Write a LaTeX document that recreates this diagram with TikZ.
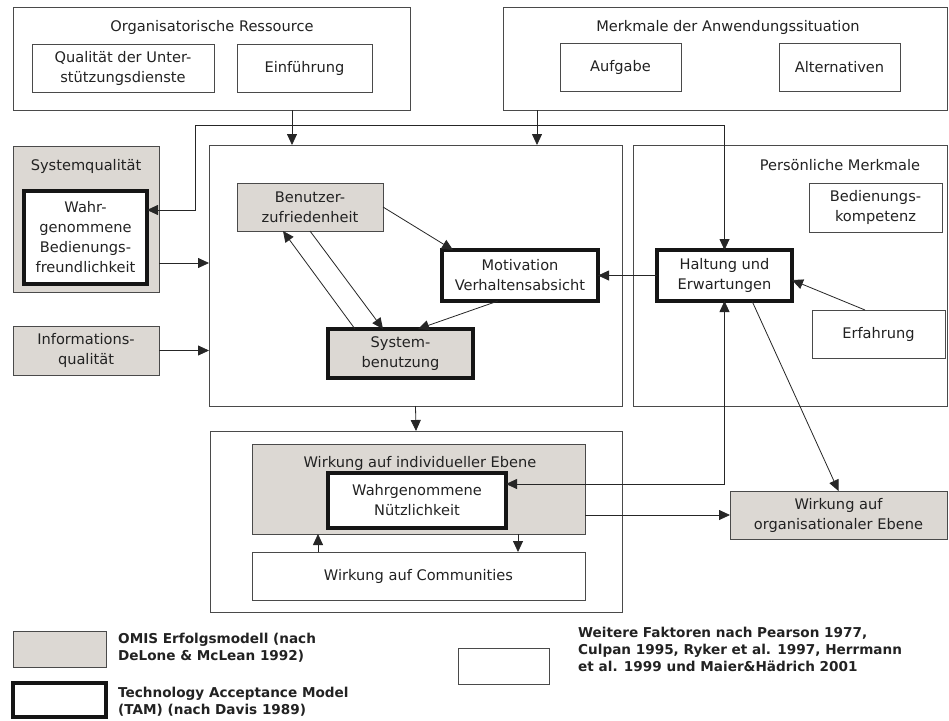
\documentclass[tikz,border=0pt]{standalone}
\usepackage{fontspec}
\setmainfont{DejaVu Sans}
\usetikzlibrary{arrows.meta,calc}

\definecolor{boxgray}{HTML}{DCD8D3}
\definecolor{framegray}{HTML}{4A4A4A}
\definecolor{inkgray}{HTML}{222222}
\definecolor{tamblack}{HTML}{151515}

\tikzset{
  boxw/.style={minimum width=#1},
  boxh/.style={minimum height=#1},
  basebox/.style={rectangle, inner sep=0pt, outer sep=0pt, align=center,
    text=inkgray, font=\fontsize{14.6}{20}\selectfont},
  plainbox/.style={basebox, draw=framegray, line width=0.9pt, fill=white},
  omisbox/.style={basebox, draw=framegray, line width=0.9pt, fill=boxgray},
  tambox/.style={basebox, draw=tamblack, line width=3.6pt, fill=white},
  tamomis/.style={basebox, draw=tamblack, line width=3.6pt, fill=boxgray},
  title/.style={anchor=base, inner sep=0pt, text=inkgray,
    font=\fontsize{14.6}{20}\selectfont},
  legendtext/.style={anchor=north west, inner sep=0pt, align=left,
    text=inkgray, font=\fontsize{13.6}{17}\selectfont\bfseries},
  conn/.style={draw=black!85, line width=0.8pt,
    -{Triangle[length=11pt,width=10pt]}},
  biconn/.style={draw=black!85, line width=0.8pt,
    {Triangle[length=11pt,width=10pt]}-{Triangle[length=11pt,width=10pt]}},
}

\begin{document}
\begin{tikzpicture}[x=1pt,y=-1pt]
\useasboundingbox (0,0) rectangle (949,720);

% ---------- top row: organisational resources and usage situation ----------
\node[plainbox, boxw=397, boxh=103] (org) at (211.5,58.5) {};
\node[title] (orgT) at (212,31.5) {Organisatorische Ressource};
\node[plainbox, boxw=182, boxh=48] (qual) at (123,68) {Qualität der Unter-\\stützungsdienste};
\node[plainbox, boxw=135, boxh=48] (einf) at (304.5,68) {Einführung};

\node[plainbox, boxw=444, boxh=103] (merk) at (725,58.5) {};
\node[title] (merkT) at (728,31.5) {Merkmale der Anwendungssituation};
\node[plainbox, boxw=121, boxh=48] (aufg) at (620.5,67) {Aufgabe};
\node[plainbox, boxw=121, boxh=48] (alt) at (839.5,67) {Alternativen};

% ---------- left column: system and information quality ----------
\node[omisbox, boxw=146, boxh=146] (sysq) at (86,219) {};
\node[title] (sysqT) at (86,170.5) {Systemqualität};
\node[tambox, boxw=123, boxh=93] (wahr) at (85.5,237.5)
  {Wahr-\\genommene\\Bedienungs-\\freundlichkeit};
\node[omisbox, boxw=146, boxh=49] (info) at (86,350.5) {Informations-\\qualität};

% ---------- centre: usage ----------
\node[plainbox, boxw=413, boxh=261] (main) at (415.5,275.5) {};
\node[omisbox, boxw=146, boxh=48] (benu) at (310,207) {Benutzer-\\zufriedenheit};
\node[tambox, boxw=156, boxh=51] (moti) at (520,275.5) {Motivation\\Verhaltensabsicht};
\node[tamomis, boxw=145, boxh=49] (syst) at (400.5,353.5) {System-\\benutzung};

% ---------- right: personal characteristics ----------
\node[plainbox, boxw=314, boxh=261] (pers) at (790,275.5) {};
\node[title] (persT) at (840,170.5) {Persönliche Merkmale};
\node[plainbox, boxw=133, boxh=49] (bedk) at (875.5,207.5) {Bedienungs-\\kompetenz};
\node[tambox, boxw=135, boxh=51] (halt) at (724.5,275.5) {Haltung und\\Erwartungen};
\node[plainbox, boxw=133, boxh=48] (erf) at (878.5,334) {Erfahrung};

% ---------- bottom: effects ----------
\node[plainbox, boxw=412, boxh=181] (wirk) at (416,521.5) {};
\node[omisbox, boxw=333, boxh=90] (indiv) at (418.5,489) {};
\node[title] (indivT) at (420,467) {Wirkung auf individueller Ebene};
\node[tambox, boxw=178, boxh=55] (nuetz) at (417,500.5) {Wahrgenommene\\Nützlichkeit};
\node[plainbox, boxw=333, boxh=48] (comm) at (418.5,576) {Wirkung auf Communities};
\node[omisbox, boxw=217, boxh=48] (orgeb) at (838.5,515) {Wirkung auf\\organisationaler Ebene};

% ---------- legend ----------
\node[omisbox, boxw=93, boxh=36] (lgomis) at (59.5,649) {};
\node[legendtext] (lgomisT) at (118,632.5) {OMIS Erfolgsmodell (nach\\DeLone \& McLean 1992)};
\node[tambox, boxw=93, boxh=34] (lgtam) at (59.5,700) {};
\node[legendtext] (lgtamT) at (118,686.5) {Technology Acceptance Model\\(TAM) (nach Davis 1989)};
\node[plainbox, boxw=91, boxh=36] (lgwhite) at (503.5,666) {};
\node[legendtext] (lgwhiteT) at (578,626.5)
  {Weitere Faktoren nach Pearson 1977,\\Culpan 1995, Ryker et al. 1997, Herrmann\\et al. 1999 und Maier\&Hädrich 2001};

% ---------- routing points ----------
\coordinate (xorg) at (292,0);
\coordinate (xmerk) at (537,0);
\coordinate (jw) at (195,210);
\coordinate (jtop) at (195,125);
\coordinate (ysq) at (0,263);
\coordinate (yn) at (0,484);

% ---------- connectors ----------
\draw[conn] (org.south -| xorg) -- (main.north -| xorg);
\draw[conn] (merk.south -| xmerk) -- (main.north -| xmerk);
\draw[biconn] (wahr.east |- jw) -- (jw) -- (jtop) -- (jtop -| halt.north) -- (halt.north);
\draw[conn] (sysq.east |- ysq) -- (main.west |- ysq);
\draw[conn] (info.east) -- (main.west |- info.east);

\draw[conn] (benu.east) -- ($(moti.north west)+(11,0)$);
\draw[conn] (benu.south) -- ($(syst.north)+(-17.5,0)$);
\draw[conn] ($(syst.north)+(-45.5,0)$) -- ($(benu.south)+(-27,0)$);
\draw[conn] ($(moti.south)+(-22,0)$) -- ($(syst.north)+(17.5,0)$);
\draw[conn] (halt.west) -- (moti.east);
\draw[conn] ($(erf.north)+(-13.5,0)$) -- ($(halt.east)+(0,4.5)$);

\draw[biconn] (halt.south) -- (halt.south |- yn) -- (nuetz.east |- yn);
\draw[conn] ($(halt.south)+(27.5,0)$) -- (orgeb.north);
\draw[conn] (main.south) -- (wirk.north);
\draw[conn] (indiv.east |- orgeb.west) -- (orgeb.west);
\draw[conn] ($(comm.north)+(-100.5,0)$) -- ($(indiv.south)+(-100.5,0)$);
\draw[conn] ($(indiv.south)+(99.5,0)$) -- ($(comm.north)+(99.5,0)$);
\end{tikzpicture}
\end{document}
